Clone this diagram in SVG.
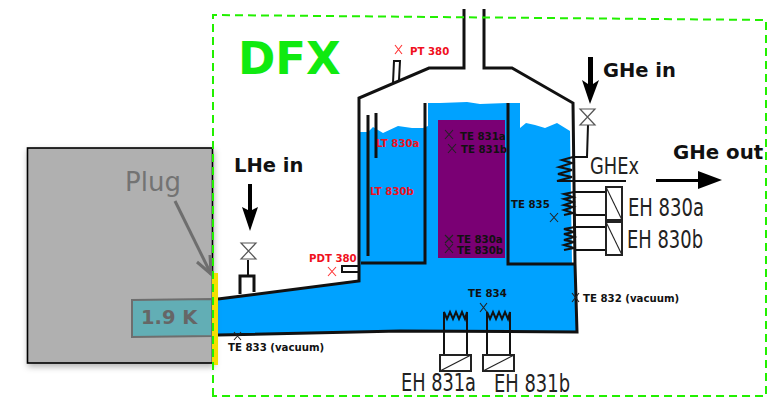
<svg xmlns="http://www.w3.org/2000/svg" width="779" height="397" viewBox="0 0 779 397">
<style>
text{font-family:"DejaVu Sans",sans-serif}
.b{font-weight:bold}
.sm{font-size:10.200px;font-weight:bold;fill:#111}
.red{font-size:10.200px;font-weight:bold;fill:#f01020}
.eh{font-size:24px;fill:#222}
.w{fill:none;stroke:#111;stroke-width:3}
.t{fill:none;stroke:#111;stroke-width:2}
.x{fill:none;stroke:#222;stroke-width:1.100}
.xr{fill:none;stroke:#f33;stroke-width:1.100}
.v{fill:#fff;stroke:#555;stroke-width:1.200}
</style>
<defs>
<filter id="sh" x="-5%" y="-5%" width="112%" height="112%"><feDropShadow dx="1" dy="3" stdDeviation="3" flood-color="#000" flood-opacity="0.3"/></filter>
</defs>
<rect width="779" height="397" fill="#fff"/>
<path id="liquid" fill="#00a2ff" d="M218 299L359 280L359 132L368 132L373 127L383 133L398 126L412 128L423 128L428 126L428 103L440 103L467 102L480 104L507 103L520 103L520 128L526 123L535 125L545 128L557 123L570 131L572 264L575 264L577 332L400 331L218 335Z"/>
<rect id="inner-cell" x="438" y="120" width="67" height="138" fill="#7a0074"/>
<g id="connectors">
<path class="w" d="M464 9V68H429L359 98V281L218 299"/>
<path class="w" d="M484 9V68H512L573 103L575 264L577 332L400 331L218 335"/>
<path class="w" d="M368 115V256M361 263H425V103M376 113V158"/>
<path class="w" d="M508 103V264H575"/>
<path class="t" d="M393 83L394 61H400L399 80"/>
<path class="t" d="M359 266H342V272H359"/>
<path class="w" d="M240 294V276H254V292"/>
<path class="t" d="M248 276V260"/>
<path class="t" d="M588 125L587 157H572"/>
<path class="t" d="M573 157L562 160L572 163L559 167L572 170L558 174L572 177L557 181H626"/>
<path class="t" d="M574 192H606M574 215H606M575 227H606M575 250H606"/>
<path class="t" d="M574 192L564 194L573 197L564 199L573 202L564 205L573 207L564 210L573 213L564 215M575 227L564 229L574 232L564 234L574 237L564 240L574 242L564 245L574 248L564 250"/>
<path class="t" d="M444 355V312L447 319L450 312L453 319L456 312L459 319L462 312L465 319L467 312V355"/>
<path class="t" d="M487 355V312L490 319L493 312L496 319L499 312L502 319L505 312L508 319L510 312V355"/>
<path fill="#000" d="M248 184H252V210L258 207L250 231L242 207L248 210Z"/>
<path fill="#000" d="M588 57H593V84L599 80L590 104L582 80L588 84Z"/>
<path fill="#000" d="M656 179H698V171L722 180L698 189V182H656Z"/>
</g>
<g id="vessel-marks">
<path class="xr" d="M395 45L402 54M402 45L395 54"/>
<path class="x" d="M445 130L453 139M453 130L445 139M448 144L456 153M456 144L448 153"/>
<path class="x" d="M445 235L453 243M453 235L445 243M445 244L453 253M453 244L445 253"/>
<path class="x" d="M550 213L558 222M558 213L550 222"/>
<path class="x" d="M480 303L487 312M487 303L480 312"/>
<path class="x" d="M572 293L579 302M579 293L572 302"/>
<path class="x" d="M234 332L241 340M241 332L234 340"/>
<path class="xr" d="M328 267L336 276M336 267L328 276"/>
</g>
<g id="plug">
<rect x="27.500" y="148" width="185" height="215" fill="#b0b0b0" stroke="#000" stroke-width="1.600" filter="url(#sh)"/>
<path fill="#62aeb5" stroke="#6e6e6e" stroke-width="2" d="M132 300L212 299V336L132 337Z"/>
<text x="141" y="324" class="b" font-size="19.500" fill="#666">1.9 K</text>
<text x="125" y="191" font-size="26" fill="#737373">Plug</text>
<path fill="none" stroke="#6e6e6e" stroke-width="3" d="M175 201L211 274"/>
<path fill="none" stroke="#6e6e6e" stroke-width="3" d="M197 262L211 274L210 255"/>
</g>
<rect id="gate" x="212" y="273" width="6" height="92" fill="#f3e000"/>
<path id="frame" fill="none" stroke="#22f000" stroke-width="2" stroke-dasharray="8 5" d="M213 396V15L766 20V396Z"/>
<g id="valve-lhe"><path class="v" d="M241 243H256L241 259H256Z"/></g>
<g id="valve-ghe"><path class="v" d="M580 109H595L580 125H595Z"/></g>
<g id="heater-830a"><rect x="606" y="187" width="16" height="33" fill="#fff" stroke="#222" stroke-width="2"/><path class="x" d="M606 187L622 220"/><text x="628" y="216" class="eh" textLength="76" lengthAdjust="spacingAndGlyphs">EH 830a</text></g>
<g id="heater-830b"><rect x="606" y="222" width="16" height="33" fill="#fff" stroke="#222" stroke-width="2"/><path class="x" d="M606 222L622 255"/><text x="627" y="248" class="eh" textLength="76" lengthAdjust="spacingAndGlyphs">EH 830b</text></g>
<g id="heater-831a"><rect x="440" y="355" width="31" height="16" fill="#fff" stroke="#222" stroke-width="2"/><path class="x" d="M440 371L471 355"/><text x="401" y="391" class="eh" textLength="75" lengthAdjust="spacingAndGlyphs">EH 831a</text></g>
<g id="heater-831b"><rect x="483" y="355" width="31" height="16" fill="#fff" stroke="#222" stroke-width="2"/><path class="x" d="M483 371L514 355"/><text x="494" y="392" class="eh" textLength="76" lengthAdjust="spacingAndGlyphs">EH 831b</text></g>
<g id="labels">
<text x="238" y="74" class="b" font-size="45" fill="#10ea10">DFX</text>
<text x="234" y="172" class="b" font-size="19.500" fill="#111">LHe in</text>
<text x="603" y="77" class="b" font-size="19.500" fill="#111">GHe in</text>
<text x="673" y="159" class="b" font-size="19.800" fill="#111">GHe out</text>
<text x="590" y="174" font-size="23" fill="#222" textLength="49" lengthAdjust="spacingAndGlyphs">GHEx</text>
<text x="410" y="55" class="red">PT 380</text>
<text x="376" y="147" class="red">LT 830a</text>
<text x="370" y="195" class="red">LT 830b</text>
<text x="309" y="262" class="red">PDT 380</text>
<text x="460" y="140" class="sm">TE 831a</text>
<text x="461" y="153" class="sm">TE 831b</text>
<text x="457" y="243" class="sm">TE 830a</text>
<text x="457" y="254" class="sm">TE 830b</text>
<text x="511" y="208" class="sm">TE 835</text>
<text x="468" y="297" class="sm">TE 834</text>
<text x="583" y="302" class="sm">TE 832 (vacuum)</text>
<text x="228" y="351" class="sm">TE 833 (vacuum)</text>
</g>
</svg>
